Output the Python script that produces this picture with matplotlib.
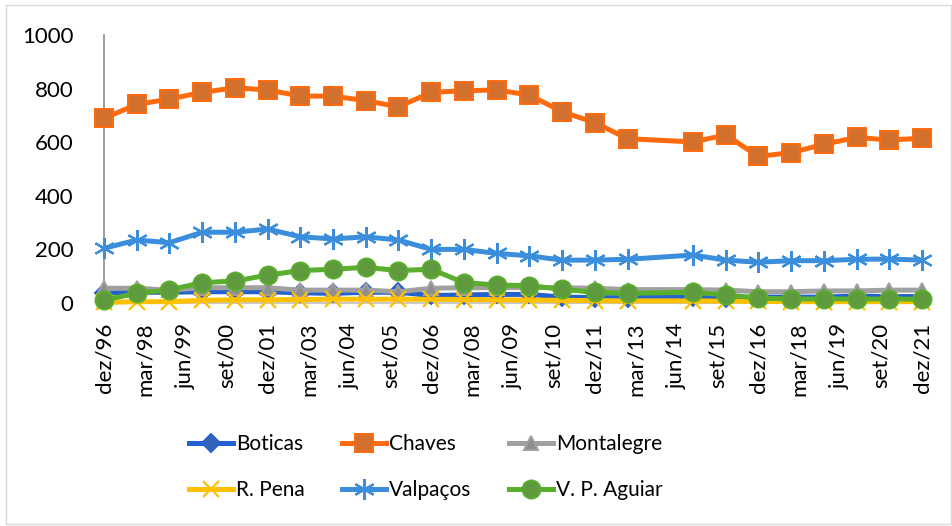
import matplotlib
matplotlib.use('Agg')
import matplotlib.pyplot as plt
from matplotlib.patches import Rectangle

plt.rcParams['font.family'] = ['Lato', 'DejaVu Sans']

# years with data (Dec of each year; 2013 missing)
years = [1996, 1997, 1998, 1999, 2000, 2001, 2002, 2003, 2004, 2005, 2006, 2007, 2008,
         2009, 2010, 2011, 2012, 2014, 2015, 2016, 2017, 2018, 2019, 2020, 2021]

boticas    = [38, 40, 40, 42, 42, 42, 38, 36, 40, 40, 28, 30, 32,
              32, 22, 20, 20, 22, 20, 22, 22, 22, 26, 24, 24]
chaves     = [689, 741, 761, 786, 803, 795, 772, 772, 755, 732, 786, 792, 795,
              776, 714, 673, 613, 601, 627, 547, 561, 592, 618, 608, 615]
montalegre = [55, 55, 48, 57, 57, 57, 48, 48, 48, 42, 55, 57, 57,
              58, 57, 55, 50, 50, 48, 42, 42, 45, 45, 48, 48]
r_pena     = [2, 5, 5, 10, 12, 12, 13, 14, 14, 14, 14, 13, 12,
              11, 10, 9, 8, 8, 7, 6, 5, 5, 5, 5, 5]
valpacos   = [204, 235, 225, 264, 264, 276, 247, 239, 247, 235, 200, 200, 185,
              176, 160, 160, 163, 179, 160, 152, 158, 158, 163, 164, 160]
vp_aguiar  = [11, 36, 49, 76, 82, 104, 121, 126, 133, 121, 126, 76, 67,
              65, 51, 40, 36, 40, 30, 18, 15, 15, 15, 15, 14]

tick_labels = ['dez/96', 'mar/98', 'jun/99', 'set/00', 'dez/01', 'mar/03', 'jun/04',
               'set/05', 'dez/06', 'mar/08', 'jun/09', 'set/10', 'dez/11', 'mar/13',
               'jun/14', 'set/15', 'dez/16', 'mar/18', 'jun/19', 'set/20', 'dez/21']

# months since dez/96
xs = [(y - 1996) * 12 for y in years]
tick_pos = [i * 15 for i in range(len(tick_labels))]

W, H = 952, 526
fig = plt.figure(figsize=(W / 100, H / 100), dpi=100)
fig.patches.append(Rectangle((6 / W, 2 / H), 945 / W, 519 / H, transform=fig.transFigure,
                             fill=False, edgecolor='#d9d9d9', lw=1))
ax = fig.add_axes([104 / W, 1 - 303 / H, 818 / W, 268 / H])

series = [
    ('Boticas', boticas, '#2461d0', 'D', '#3563b5', '#2461d0', 9, 1.4),
    ('Chaves', chaves, '#ff6a0d', 's', '#d4702e', '#ff6a0d', 12.5, 1.4),
    ('Montalegre', montalegre, '#a0a0a0', '^', '#8f8f8f', '#a0a0a0', 10, 1.4),
    ('R. Pena', r_pena, '#ffc000', 'x', '#ffc000', '#ffc000', 11, 1.6),
    ('Valpaços', valpacos, '#3a8edb', (6, 2, 0), '#3a8edb', '#3a8edb', 15, 1.6),
    ('V. P. Aguiar', vp_aguiar, '#5aae2e', 'o', '#5f9a3e', '#5aae2e', 13, 1.4),
]
handles = {}
for i, (name, vals, col, mk, mfc, mec, ms, mew) in enumerate(series):
    h, = ax.plot(xs, vals, color=col, lw=3.6, marker=mk, markersize=ms,
                 markerfacecolor=mfc, markeredgecolor=mec, markeredgewidth=mew,
                 clip_on=False, zorder=3 + i, label=name)
    handles[name] = h

ax.set_xlim(0, 300)
ax.set_ylim(0, 1000)
ax.set_yticks([0, 200, 400, 600, 800, 1000])
ax.set_xticks(tick_pos)
ax.set_xticklabels(tick_labels, rotation=90, fontsize=16)
ax.tick_params(axis='y', labelsize=16, length=0, pad=22)
ax.tick_params(axis='x', length=0, pad=14)
for s in ['top', 'right']:
    ax.spines[s].set_visible(False)
ax.spines['left'].set_color('#8c8c8c')
ax.spines['left'].set_linewidth(1.2)
ax.spines['bottom'].set_color('#bfbfbf')
ax.spines['bottom'].set_linewidth(1.2)

order = ['Boticas', 'R. Pena', 'Chaves', 'Valpaços', 'Montalegre', 'V. P. Aguiar']
fig.legend([handles[n] for n in order], order, ncol=3, loc='center',
           bbox_to_anchor=(426 / W, 1 - 467 / H), frameon=False, fontsize=15,
           handlelength=2.1, handletextpad=0.15, columnspacing=1.8, labelspacing=1.25)

fig.savefig('out.png', dpi=100)
